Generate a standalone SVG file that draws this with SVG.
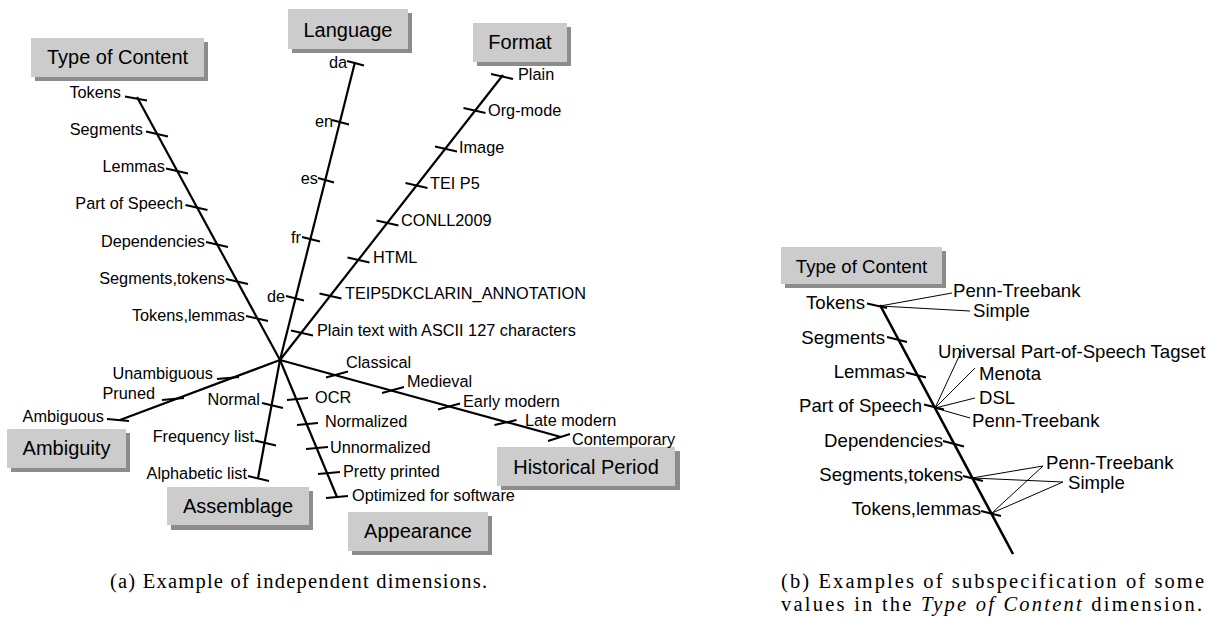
<svg xmlns="http://www.w3.org/2000/svg" width="1213" height="621" viewBox="0 0 1213 621">
  <style>
    .shadow { fill: #8c8c8c; }
    .box { fill: #cccccc; }
    .title { font-family: "Liberation Sans", Arial, sans-serif; font-size: 20px; text-anchor: middle; fill: #000; }
    .title-b { font-family: "Liberation Sans", Arial, sans-serif; font-size: 18.6px; text-anchor: middle; fill: #000; }
    .val { font-family: "Liberation Sans", Arial, sans-serif; font-size: 16.3px; fill: #000; }
    .val-b { font-family: "Liberation Sans", Arial, sans-serif; font-size: 18.6px; fill: #000; }
    .end { text-anchor: end; }
    .axis { stroke: #000; stroke-width: 2.2; fill: none; }
    .axis-b { stroke: #000; stroke-width: 2.6; fill: none; }
    .tick { stroke: #000; stroke-width: 2; fill: none; }
    .sub { stroke: #000; stroke-width: 1; fill: none; }
    .cap { font-family: "Liberation Serif", "Times New Roman", serif; font-size: 20.5px; fill: #000; }
  </style>

  <!-- axes, ticks and sub-value links -->
  <g id="connectors">
    <!-- (a) dimension axes radiating from the common origin -->
    <path class="axis" d="M137,97 L280,360"/>
    <path class="axis" d="M355,62 L280,360"/>
    <path class="axis" d="M503,75 L280,360"/>
    <path class="axis" d="M280,360 L561,437"/>
    <path class="axis" d="M280,360 L337,497"/>
    <path class="axis" d="M280,360 L258,478"/>
    <path class="axis" d="M280,360 L120,420"/>

    <!-- Type of Content ticks -->
    <path class="tick" d="M125,96.5 L147,100.5 M146,131.5 L168,136.5 M166,168.5 L188,173.5 M185.5,205 L207.5,210 M206,242 L228,247 M226,279 L248,284 M246,316 L268,321"/>
    <!-- Language ticks -->
    <path class="tick" d="M347,61 L364,65.5 M332,120 L349,124.5 M318,178 L334,182.5 M302,237 L320,241.5 M286,296 L304,300.5"/>
    <!-- Format ticks -->
    <path class="tick" d="M491,74 L513,79 M463.5,108 L485.5,113 M435,146.5 L457,151.5 M405.5,183 L427.5,188 M376.5,220.5 L398.5,225.5 M347.5,257.5 L369.5,262.5 M319.5,293.5 L341.5,298.5 M291,330.5 L313,335.5"/>
    <!-- Historical Period ticks -->
    <path class="tick" d="M326,377.5 L348,371.5 M382,393 L404,387 M438,409.5 L460,403.5 M494.5,425 L516.5,420 M548,441 L570,434"/>
    <!-- Appearance ticks -->
    <path class="tick" d="M287,400 L308,398 M297,425 L318,423 M306,449 L328,447 M318,474 L340,472 M326,498 L348,496"/>
    <!-- Assemblage ticks -->
    <path class="tick" d="M262,403 L283,408 M255,440.5 L276,445.5 M248,476 L269,481"/>
    <!-- Ambiguity ticks -->
    <path class="tick" d="M217,379 L239,377 M162,400 L184,398 M107,419 L129,421"/>

    <!-- (b) Type of Content axis with ticks -->
    <path class="axis-b" d="M880,305 L1013,554"/>
    <path class="tick" d="M867,303.5 L887,308 M887,337 L907,342 M906,372.5 L926,377.5 M924,404.5 L944,409.5 M943,441 L964,446.5 M963,476 L983,481 M981,511 L1001,516"/>
    <!-- (b) links to sub-values -->
    <path class="sub" d="M880,306 L952,293 M880,306 L970,311"/>
    <path class="sub" d="M935,408 L962,350 M935,408 L975,368 M935,408 L975,398 M935,408 L970,418"/>
    <path class="sub" d="M972,478 L1043,466 M972,478 L1063,482 M992,513 L1043,466 M992,513 L1063,482"/>
  </g>

  <!-- (a) dimension boxes -->
  <g id="dim-type-of-content">
    <rect class="shadow" x="35" y="42" width="173" height="39"/>
    <rect class="box" x="31" y="38" width="173" height="39"/>
    <text class="title" x="117.5" y="64">Type of Content</text>
  </g>
  <g id="dim-language">
    <rect class="shadow" x="292" y="13" width="120" height="40"/>
    <rect class="box" x="288" y="9" width="120" height="40"/>
    <text class="title" x="348" y="37">Language</text>
  </g>
  <g id="dim-format">
    <rect class="shadow" x="477" y="27" width="94" height="39"/>
    <rect class="box" x="473" y="23" width="94" height="39"/>
    <text class="title" x="520" y="49">Format</text>
  </g>
  <g id="dim-ambiguity">
    <rect class="shadow" x="11" y="433" width="119" height="39"/>
    <rect class="box" x="7" y="429" width="119" height="39"/>
    <text class="title" x="66.5" y="455">Ambiguity</text>
  </g>
  <g id="dim-assemblage">
    <rect class="shadow" x="171" y="491" width="142" height="39"/>
    <rect class="box" x="167" y="487" width="142" height="38"/>
    <text class="title" x="238" y="513">Assemblage</text>
  </g>
  <g id="dim-historical-period">
    <rect class="shadow" x="501" y="451" width="179" height="39"/>
    <rect class="box" x="497" y="447" width="178" height="39"/>
    <text class="title" x="586" y="474">Historical Period</text>
  </g>
  <g id="dim-appearance">
    <rect class="shadow" x="352" y="516" width="140" height="39"/>
    <rect class="box" x="348" y="512" width="140" height="39"/>
    <text class="title" x="418" y="538">Appearance</text>
  </g>

  <!-- (a) values -->
  <g id="values-type-of-content">
    <text class="val end" x="121" y="98">Tokens</text>
    <text class="val end" x="143" y="135">Segments</text>
    <text class="val end" x="165" y="172">Lemmas</text>
    <text class="val end" x="183" y="209">Part of Speech</text>
    <text class="val end" x="205" y="247">Dependencies</text>
    <text class="val end" x="225" y="284">Segments,tokens</text>
    <text class="val end" x="245" y="321">Tokens,lemmas</text>
  </g>
  <g id="values-language">
    <text class="val end" x="347" y="68">da</text>
    <text class="val end" x="333" y="127">en</text>
    <text class="val end" x="318" y="184">es</text>
    <text class="val end" x="301" y="243">fr</text>
    <text class="val end" x="285" y="302">de</text>
  </g>
  <g id="values-format">
    <text class="val" x="518" y="80">Plain</text>
    <text class="val" x="488" y="116">Org-mode</text>
    <text class="val" x="459" y="153">Image</text>
    <text class="val" x="430" y="189">TEI P5</text>
    <text class="val" x="401" y="226">CONLL2009</text>
    <text class="val" x="373" y="263">HTML</text>
    <text class="val" x="345" y="299">TEIP5DKCLARIN_ANNOTATION</text>
    <text class="val" x="317" y="336">Plain text with ASCII 127 characters</text>
  </g>
  <g id="values-historical-period">
    <text class="val" x="346" y="368">Classical</text>
    <text class="val" x="407" y="387">Medieval</text>
    <text class="val" x="463" y="407">Early modern</text>
    <text class="val" x="525" y="426">Late modern</text>
    <text class="val" x="572" y="445">Contemporary</text>
  </g>
  <g id="values-appearance">
    <text class="val" x="315" y="403">OCR</text>
    <text class="val" x="325" y="427">Normalized</text>
    <text class="val" x="330" y="453">Unnormalized</text>
    <text class="val" x="343" y="477">Pretty printed</text>
    <text class="val" x="352" y="501">Optimized for software</text>
  </g>
  <g id="values-assemblage">
    <text class="val end" x="260" y="405">Normal</text>
    <text class="val end" x="254" y="442">Frequency list</text>
    <text class="val end" x="247" y="479">Alphabetic list</text>
  </g>
  <g id="values-ambiguity">
    <text class="val end" x="213" y="379">Unambiguous</text>
    <text class="val end" x="155" y="399">Pruned</text>
    <text class="val end" x="104" y="422">Ambiguous</text>
  </g>

  <!-- (b) subspecification -->
  <g id="dim-type-of-content-b">
    <rect class="shadow" x="785" y="251" width="161" height="37"/>
    <rect class="box" x="781" y="247" width="161" height="37"/>
    <text class="title-b" x="861.5" y="272.5">Type of Content</text>
  </g>
  <g id="values-type-of-content-b">
    <text class="val-b end" x="865" y="309">Tokens</text>
    <text class="val-b end" x="885" y="344">Segments</text>
    <text class="val-b end" x="905" y="378">Lemmas</text>
    <text class="val-b end" x="922" y="412">Part of Speech</text>
    <text class="val-b end" x="943" y="447">Dependencies</text>
    <text class="val-b end" x="963" y="481">Segments,tokens</text>
    <text class="val-b end" x="981" y="515">Tokens,lemmas</text>
  </g>
  <g id="subvalues-b">
    <text class="val-b" x="953" y="297">Penn-Treebank</text>
    <text class="val-b" x="973" y="317">Simple</text>
    <text class="val-b" x="938" y="358">Universal Part-of-Speech Tagset</text>
    <text class="val-b" x="979" y="380">Menota</text>
    <text class="val-b" x="979" y="404">DSL</text>
    <text class="val-b" x="972" y="427">Penn-Treebank</text>
    <text class="val-b" x="1046" y="469">Penn-Treebank</text>
    <text class="val-b" x="1068" y="489">Simple</text>
  </g>

  <!-- captions -->
  <g id="captions">
    <text class="cap" x="110" y="588" textLength="377">(a) Example of independent dimensions.</text>
    <text class="cap" x="781" y="587.5" textLength="423">(b) Examples of subspecification of some</text>
    <text class="cap" x="781" y="611" textLength="421">values in the <tspan font-style="italic">Type of Content</tspan> dimension.</text>
  </g>
</svg>
